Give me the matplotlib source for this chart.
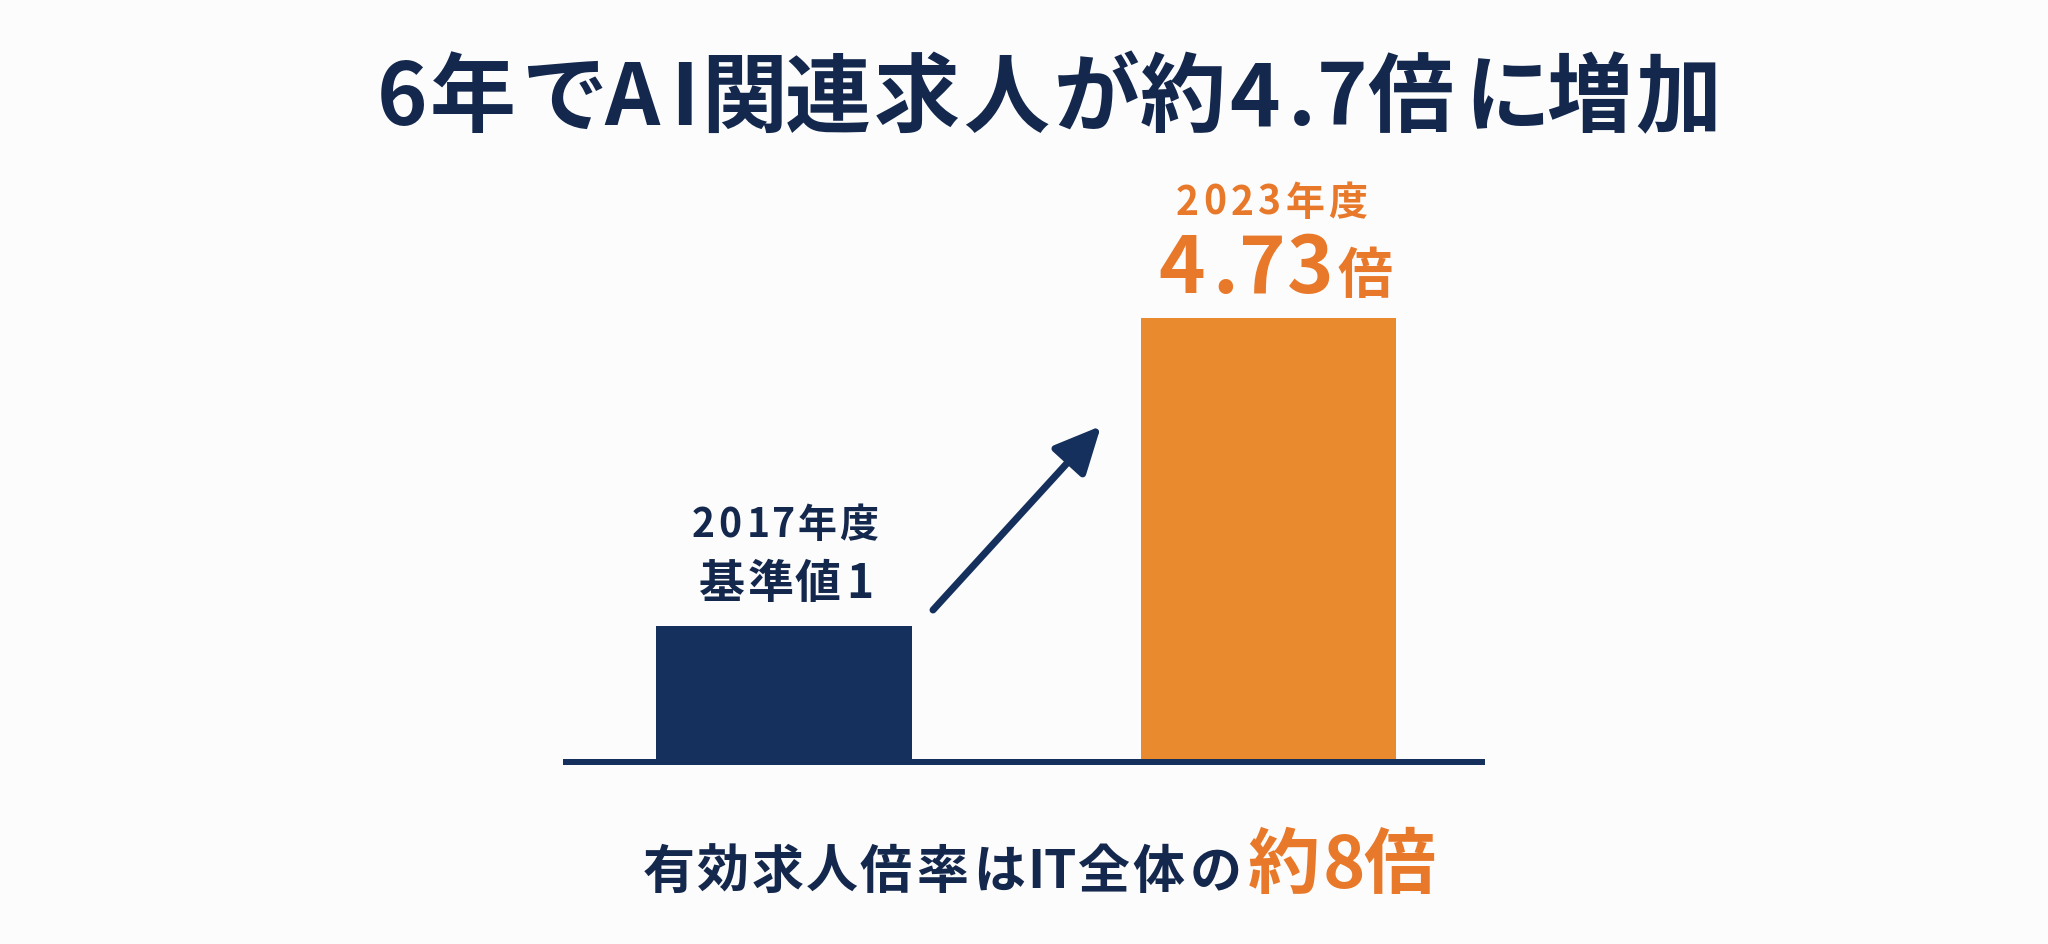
import numpy as np
import matplotlib
matplotlib.use("Agg")
import matplotlib.pyplot as plt
from matplotlib.font_manager import FontProperties, findfont, get_font

# ---- data ----
categories = ["2017年度", "2023年度"]
values = [1.0, 4.73]
value_labels = ["基準値1", "4.73"]
value_units = ["", "倍"]
title = "6年でAI関連求人が約4.7倍に増加"
note_main = "有効求人倍率はIT全体の"
note_highlight = "約8倍"

NAVY = "#15305C"
NAVY_TXT = "#14284D"
ORANGE = "#E98A2E"
ORANGE_TXT = "#E8792A"
BG = "#FCFCFC"

FAMILY = ["Noto Sans CJK JP", "DejaVu Sans"]
plt.rcParams["font.family"] = FAMILY
plt.rcParams["font.weight"] = "bold"

W, H = 2048, 944
DPI = 100
fig = plt.figure(figsize=(W / DPI, H / DPI), dpi=DPI, facecolor=BG)
PT = 72.0 / DPI  # points per pixel


def fx(x):
    return x / W


def fy(y):
    return 1 - y / H


# visual bar heights in the reference grow sub-linearly: power scale
P = 0.7615


def fwd(v):
    v = np.asarray(v, dtype=float)
    return np.sign(v) * np.abs(v) ** P


def inv(v):
    v = np.asarray(v, dtype=float)
    return np.sign(v) * np.abs(v) ** (1 / P)


ax = fig.add_axes([fx(563), fy(762), fx(1485) - fx(563), fy(318) - fy(762)])
ax.set_facecolor("none")
ax.set_yscale("function", functions=(fwd, inv))
ax.set_xlim(-0.456, 1.447)
ax.set_ylim(0, max(values))
bars = ax.bar(range(len(values)), values, width=0.527, color=[NAVY, ORANGE],
              zorder=2, clip_on=False)
ax.axhline(0, color=NAVY, lw=6 * PT, zorder=3, clip_on=False,
           solid_capstyle="butt")
ax.axis("off")

fig.canvas.draw()

_fp = FontProperties(family=FAMILY, weight="bold")
_font = get_font(findfont(_fp))


def glyph_metrics(ch, size_px):
    _font.set_size(size_px * PT, DPI)
    g = _font.load_char(ord(ch))
    return g.linearHoriAdvance / 65536.0, g.horiBearingX / 64.0


def measure(s, size_px, track):
    advs = [glyph_metrics(c, size_px)[0] for c in s]
    return sum(advs) + track * (len(s) - 1)


def tracked(s, x_left, base_y, size_px, color, track):
    pen = x_left
    for c in s:
        adv, lsb = glyph_metrics(c, size_px)
        if c != " ":
            fig.text(fx(pen + lsb), fy(base_y), c, fontsize=size_px * PT,
                     color=color, fontweight="bold", ha="left", va="baseline")
        pen += adv + track
    return pen - track


def composite(parts, cx, base_y, gap):
    """parts: list of (text, size_px, color, track) centred at cx"""
    widths = [measure(s, sz, tr) for s, sz, col, tr in parts]
    total = sum(widths) + gap * (len(parts) - 1)
    x = cx - total / 2
    for (s, sz, col, tr), w in zip(parts, widths):
        tracked(s, x, base_y, sz, col, tr)
        x += w + gap


def bar_px(i):
    """bar centre x and top y in pixel coordinates (from top-left)"""
    r = bars[i]
    xd = r.get_x() + r.get_width() / 2
    disp = ax.transData.transform((xd, r.get_height()))
    return disp[0], H - disp[1]


# labels above bars
c0x, c0top = bar_px(0)
c1x, c1top = bar_px(1)
composite([(categories[0], 39, NAVY_TXT, 3.5)], c0x, c0top - 89, 0)
composite([(value_labels[0], 46, NAVY_TXT, 2)], c0x, c0top - 28, 0)
composite([(categories[1], 39, ORANGE_TXT, 4.5)], c1x + 2, c1top - 103, 0)
composite([(value_labels[1], 79, ORANGE_TXT, 3), (value_units[1], 55, ORANGE_TXT, 0)],
          c1x + 6, c1top - 25, 6)

# title
composite([(title, 86, NAVY_TXT, 3)], 1046, 125, 0)

# arrow
ax.annotate("", xy=(fx(1101), fy(426)), xycoords="figure fraction",
            xytext=(fx(933), fy(610)), textcoords="figure fraction",
            arrowprops=dict(arrowstyle="-|>,head_length=0.95,head_width=0.45",
                            lw=7 * PT, color=NAVY, mutation_scale=30,
                            shrinkA=0, shrinkB=0))

# bottom note
composite([(note_main, 52, NAVY_TXT, 2.5), (note_highlight, 72, ORANGE_TXT, 1)],
          1038, 888, 8)

fig.savefig("out.png", dpi=DPI, facecolor=BG)
